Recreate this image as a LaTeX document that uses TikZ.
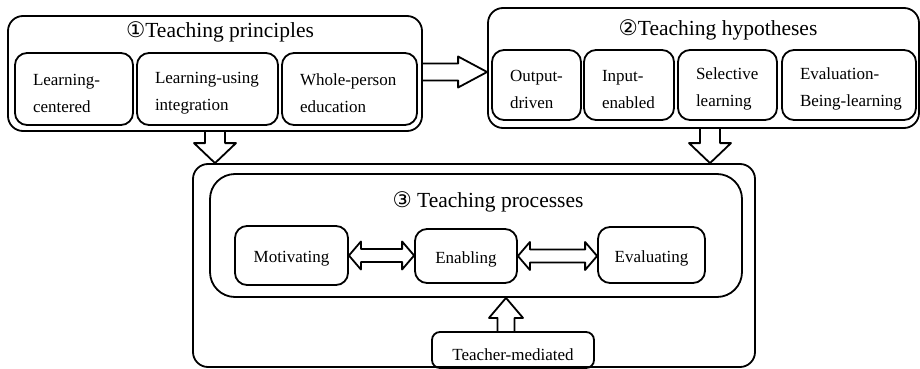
\documentclass[tikz,border=0pt]{standalone}
\usepackage{fontspec}
\setmainfont{Liberation Serif}
\newfontfamily\circfont{DejaVu Sans}
\usetikzlibrary{calc}

% hollow block arrow: start, end, shaft half width, head half width, head length
\newcommand{\blockarrow}[5]{%
  \coordinate (bah) at ($(#2)!#5!(#1)$);
  \draw[blockline] ($(#1)!#3!90:(#2)$) -- ($(bah)!#3!90:(#2)$) -- ($(bah)!#4!90:(#2)$)
    -- (#2) -- ($(bah)!#4!-90:(#2)$) -- ($(bah)!#3!-90:(#2)$) -- ($(#1)!#3!-90:(#2)$);}
% same with a head at both ends
\newcommand{\twoarrow}[5]{%
  \coordinate (taa) at ($(#1)!#5!(#2)$);
  \coordinate (tab) at ($(#2)!#5!(#1)$);
  \draw[blockline] (#1) -- ($(taa)!#4!90:(#2)$) -- ($(taa)!#3!90:(#2)$) -- ($(tab)!#3!90:(#2)$)
    -- ($(tab)!#4!90:(#2)$) -- (#2) -- ($(tab)!#4!-90:(#2)$) -- ($(tab)!#3!-90:(#2)$)
    -- ($(taa)!#3!-90:(#2)$) -- ($(taa)!#4!-90:(#2)$) -- cycle;}

\begin{document}
\begin{tikzpicture}[x=1pt,y=-1pt,line cap=round,line join=round,
  frame/.style={draw,line width=1.8pt,rounded corners=15pt,inner sep=0pt},
  item/.style={draw,line width=1.8pt,rounded corners=12pt,align=left,inner xsep=18pt,inner ysep=0pt,
    text height=20pt,font=\fontsize{17}{27}\selectfont},
  stage/.style={draw,line width=1.8pt,rounded corners=12pt,inner sep=0pt,text height=18pt,text depth=4pt,
    font=\fontsize{17}{20}\selectfont},
  heading/.style={font=\fontsize{21.5}{26}\selectfont},
  blockline/.style={line width=1.8pt}]
\useasboundingbox (0,0) rectangle (920,369);

% principles
\node[frame,minimum width=414pt,minimum height=115pt] (p) at (215,73.5) {};
\node[heading] (ptitle) at (220,32) {{\circfont ①}Teaching principles};
\node[item,text width=82pt,minimum height=72pt] (p1) at (74,89) {Learning-\\centered};
\node[item,text width=105pt,minimum height=72pt] (p2) at (207.5,89) {\mbox{Learning-using}\\integration};
\node[item,text width=99pt,minimum height=72pt] (p3) at (349.5,89) {Whole-person\\education};

% hypotheses
\node[frame,minimum width=431pt,minimum height=120pt] (h) at (703.5,68) {};
\node[heading] (htitle) at (718,30) {{\circfont ②}Teaching hypotheses};
\node[item,text width=53pt,minimum height=70pt] (h1) at (536.5,85) {Output-\\driven};
\node[item,text width=54pt,minimum height=70pt] (h2) at (629,85) {Input-\\enabled};
\node[item,text width=63pt,minimum height=70pt] (h3) at (727.5,85) {Selective\\learning};
\node[item,text width=98pt,minimum height=70pt] (h4) at (849,85) {Evaluation-\\\mbox{Being-learning}};

% processes
\node[frame,minimum width=562pt,minimum height=203pt] (proc) at (474,265.5) {};
\node[frame,rounded corners=25pt,minimum width=532pt,minimum height=123pt] (cycle) at (476,235.5) {};
\node[heading] (ctitle) at (488,202) {{\circfont ③} Teaching processes};
\node[stage,minimum width=113pt,minimum height=59pt] (m) at (291.5,255.5) {Motivating};
\node[stage,minimum width=102pt,minimum height=54pt] (e) at (466,256) {Enabling};
\node[stage,minimum width=107pt,minimum height=56pt] (v) at (651.5,255) {Evaluating};
\node[stage,rounded corners=8pt,minimum width=162pt,minimum height=36pt,text height=20pt,text depth=0pt] (t) at (513,350) {Teacher-mediated};

% arrows
\coordinate (a1s) at ([yshift=1.5pt]p.east);
\coordinate (a1e) at (a1s -| h.west);
\blockarrow{a1s}{a1e}{8.5pt}{15.5pt}{29pt}
\coordinate (a2e) at (p.south |- proc.north);
\blockarrow{p.south}{a2e}{10pt}{21pt}{20pt}
\coordinate (a3s) at ([xshift=6.5pt]h.south);
\coordinate (a3e) at (a3s |- proc.north);
\blockarrow{a3s}{a3e}{10pt}{21pt}{20pt}
\coordinate (a4s) at ([xshift=-7pt]t.north);
\coordinate (a4e) at (a4s |- cycle.south);
\blockarrow{a4s}{a4e}{8.5pt}{17pt}{20pt}
\coordinate (a5e) at (m.east -| e.west);
\twoarrow{m.east}{a5e}{6.5pt}{14pt}{12pt}
\coordinate (a6e) at (e.east -| v.west);
\twoarrow{e.east}{a6e}{6.5pt}{14pt}{12pt}
\end{tikzpicture}
\end{document}
